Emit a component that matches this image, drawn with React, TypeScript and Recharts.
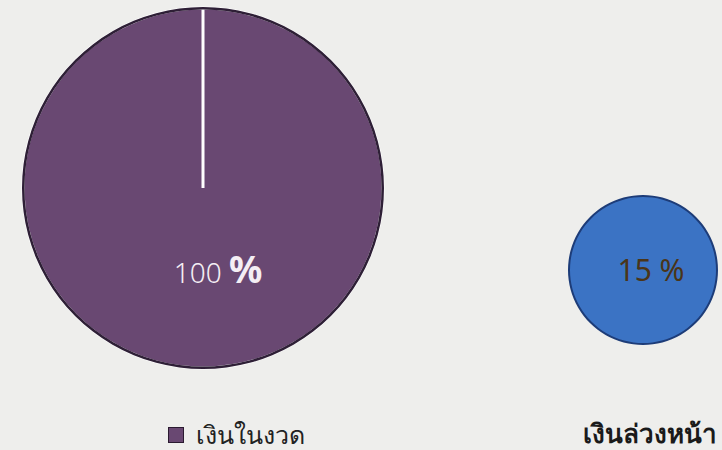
import { PieChart, Pie, Cell } from 'recharts';

const mainLabels = ['เงินในงวด'];
const mainValues = [100];
const advanceLabels = ['เงินล่วงหน้า'];
const advanceValues = [15];

const mainData = mainLabels.map((name, i) => ({ name, value: mainValues[i] }));
const advanceData = advanceLabels.map((name, i) => ({ name, value: advanceValues[i] }));

const PURPLE = '#694872';
const BLUE = '#3b73c4';
const FONT = '"Noto Sans", "DejaVu Sans", sans-serif';

const mainLabel = (p: any) => (
  <text x={p.cx + 15} y={p.cy + 95} textAnchor="middle" fill="#f4eef4" fontFamily={FONT}>
    <tspan fontSize={28} fontWeight={300}>{p.value} </tspan>
    <tspan fontSize={37} fontWeight={700}>%</tspan>
  </text>
);

const advanceLabel = (p: any) => (
  <text x={p.cx + 8} y={p.cy + 11} textAnchor="middle" fill="#4a3518" fontFamily={FONT} fontSize={30}>
    {p.value} %
  </text>
);

export default function App() {
  return (
    <div style={{ position: 'fixed', left: 0, top: 0, width: 722, height: 450, background: '#eeeeec', overflow: 'hidden' }}>
      <PieChart width={722} height={450} margin={{ top: 0, right: 0, bottom: 0, left: 0 }}>
        <Pie
          data={mainData}
          dataKey="value"
          cx={203}
          cy={188}
          outerRadius={180}
          startAngle={90}
          endAngle={-270}
          stroke="#ffffff"
          strokeWidth={3}
          label={mainLabel}
          labelLine={false}
          isAnimationActive={false}
        >
          {mainData.map((d) => <Cell key={d.name} fill={PURPLE} />)}
        </Pie>
        <Pie
          data={mainData}
          dataKey="value"
          cx={203}
          cy={188}
          innerRadius={178.5}
          outerRadius={181}
          startAngle={90}
          endAngle={-270}
          stroke="none"
          fill="#2e1f36"
          isAnimationActive={false}
        />
        <Pie
          data={advanceData}
          dataKey="value"
          cx={643}
          cy={270}
          outerRadius={74}
          startAngle={90}
          endAngle={-270}
          stroke="none"
          label={advanceLabel}
          labelLine={false}
          isAnimationActive={false}
        >
          {advanceData.map((d) => <Cell key={d.name} fill={BLUE} />)}
        </Pie>
        <Pie
          data={advanceData}
          dataKey="value"
          cx={643}
          cy={270}
          innerRadius={73}
          outerRadius={75}
          startAngle={90}
          endAngle={-270}
          stroke="none"
          fill="#1d3c78"
          isAnimationActive={false}
        />
      </PieChart>
      <div style={{ position: 'absolute', left: 168, top: 415, display: 'flex', alignItems: 'center', fontFamily: FONT, fontSize: 25, color: '#222' }}>
        <span style={{ width: 14, height: 14, background: PURPLE, border: '1.5px solid #2a1a30', marginRight: 12, display: 'inline-block' }} />
        {mainLabels[0]}
      </div>
      <div style={{ position: 'absolute', left: 583, top: 413, fontFamily: FONT, fontSize: 26, fontWeight: 600, color: '#1a1a1a', whiteSpace: 'nowrap' }}>
        {advanceLabels[0]}
      </div>
    </div>
  );
}
